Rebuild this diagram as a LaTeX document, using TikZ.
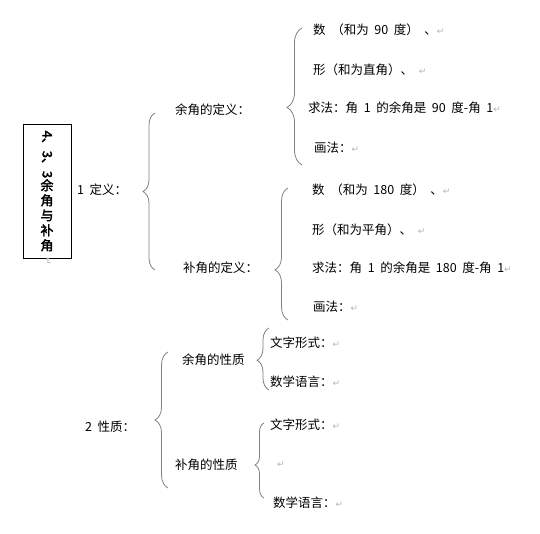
\documentclass[tikz,border=0pt]{standalone}
\usepackage{graphicx}
\usepackage{fontspec}
\setmainfont{Noto Sans CJK SC}[WordSpace = 2]
\newfontfamily\titlefont{Noto Sans CJK SC}[FakeBold = 2.5]
\newfontfamily\symfont{DejaVu Sans}
\usetikzlibrary{decorations.pathreplacing}

% Grey paragraph mark at the end of a line.
\newcommand{\retmark}{\textcolor{gray!60}{\symfont\fontsize{9}{9}\selectfont ↵}}

\tikzset{
    leaf/.style = {anchor = west, inner sep = 0pt, font = \fontsize{12.5}{15}\selectfont},
    curly/.style = {draw = gray, line width = 0.8pt, decorate, decoration = {brace, #1}},
    titlebox/.style = {draw, line width = 0.8pt, minimum width = 48pt, minimum height = 134pt,
        inner sep = 0pt, align = center, font = \titlefont\fontsize{13}{15}\selectfont}
}

\begin{document}
\begin{tikzpicture}[x = 1pt, y = -1pt]

        % Fix the page to the size of the reference.
        \useasboundingbox (0, 0) rectangle (540, 534);

        % Title box, written top to bottom.
        \node[titlebox] (title) at (47, 191) {\rotatebox{-90}{4、3、3}\\余\\角\\与\\补\\角};
        \node[inner sep = 0pt] (titleret) at (48, 261) {\rotatebox{-90}{\retmark}};

        % First level: definitions and properties.
        \node[leaf] (def) at (77, 190) {1 定义：};
        \node[leaf] (prop) at (85, 427) {2 性质：};

        % Second level.
        \node[leaf] (yudef) at (175, 110) {余角的定义：};
        \node[leaf] (budef) at (183, 268) {补角的定义：};
        \node[leaf] (yuprop) at (182, 360) {余角的性质};
        \node[leaf] (buprop) at (175, 465) {补角的性质};

        % Third level for the complementary angle definition.
        \foreach \name/\xpos/\ypos/\txt in {%
            yua/313/30/{数 （和为 90 度） 、},
            yub/313/70/{形（和为直角）、 },
            yuc/308/108/{求法：角 1 的余角是 90 度-角 1},
            yud/314/148/{画法：}}{
            \node[leaf] (\name) at (\xpos, \ypos) {\txt\retmark};
        }

        % Third level for the supplementary angle definition.
        \foreach \name/\xpos/\ypos/\txt in {%
            bua/312/190/{数 （和为 180 度） 、},
            bub/312/230/{形（和为平角）、 },
            buc/312/268/{求法：角 1 的余角是 180 度-角 1},
            bud/313/307/{画法：}}{
            \node[leaf] (\name) at (\xpos, \ypos) {\txt\retmark};
        }

        % Third level for the properties.
        \node[leaf] (yupa) at (270, 343) {文字形式：\retmark};
        \node[leaf] (yupb) at (270, 382) {数学语言：\retmark};
        \node[leaf] (bupa) at (270, 425) {文字形式：\retmark};
        \node[leaf] (bupb) at (277, 465) {\retmark};
        \node[leaf] (bupc) at (273, 503) {数学语言：\retmark};

        % Braces, drawn from bottom to top so the tip points left.
        \draw[curly = {amplitude = 12pt}] (155, 270) to (155, 113);
        \draw[curly = {amplitude = 15pt, aspect = 0.42}] (302, 165) to (302, 28);
        \draw[curly = {amplitude = 13pt, aspect = 0.38}] (288, 320) to (288, 188);
        \draw[curly = {amplitude = 13pt}] (168, 488) to (168, 352);
        \draw[curly = {amplitude = 12pt, aspect = 0.48}] (269, 390) to (269, 328);
        \draw[curly = {amplitude = 9pt, aspect = 0.44}] (264, 498) to (264, 423);
    \end{tikzpicture}
\end{document}
